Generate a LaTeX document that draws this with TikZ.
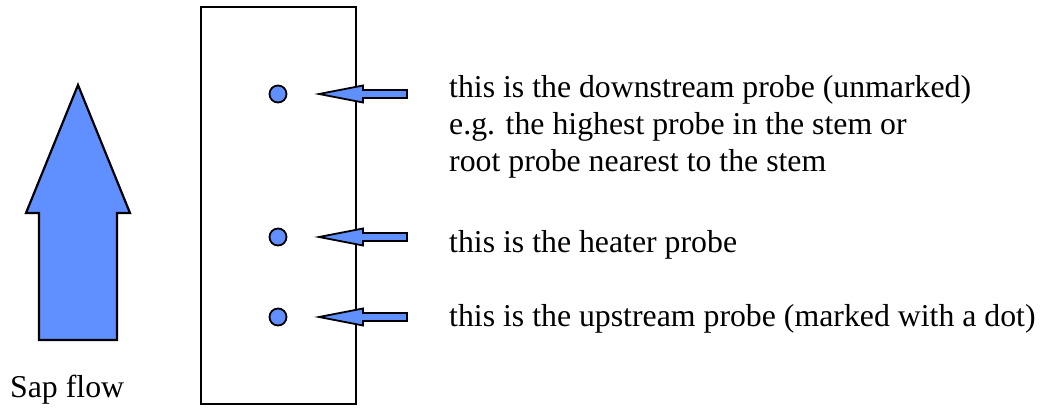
\documentclass[tikz,border=0pt]{standalone}
\usepackage{fontspec}
\setmainfont{Liberation Serif}
\definecolor{probeblue}{RGB}{96,144,255}
\tikzset{
  shapeline/.style={draw=black, line width=2pt, fill=probeblue, line join=miter},
  lbl/.style={anchor=base west, inner sep=0pt, font=\fontsize{31.8}{37}\selectfont},
  probe/.style={circle, draw=black, line width=1.8pt, fill=probeblue, minimum size=17pt, inner sep=0pt},
  pics/probearrow/.style={code={
    \draw[shapeline, line width=1.8pt] (0,0) -- (44,-8.5) -- (44,-4) -- (88,-4) -- (88,4) -- (44,4) -- (44,8.5) -- cycle;
  }}
}
\begin{document}
\begin{tikzpicture}[x=1pt,y=-1pt]
\useasboundingbox (0,0) rectangle (1042,411);
% big flow arrow
\draw[shapeline, line width=2.2pt] (78,85) -- (130,213) -- (117,213) -- (117,340) -- (39,340) -- (39,213) -- (26,213) -- cycle;
\node[lbl] (sap) at (10,398) {Sap flow};
% stem
\draw[black, line width=2pt] (201,7) rectangle (356,404);
% probes
\node[probe] (down) at (278,94) {};
\node[probe] (heat) at (278,237) {};
\node[probe] (up) at (278,317) {};
\pic at (319,94) {probearrow};
\pic at (319,237) {probearrow};
\pic at (319,317) {probearrow};
% labels
\node[lbl] (t1) at (449,98) {this is the downstream probe (unmarked)};
\node[lbl] (t2) at (449,135) {e.g. the highest probe in the stem or};
\node[lbl] (t3) at (449,172) {root probe nearest to the stem};
\node[lbl] (t4) at (449,253) {this is the heater probe};
\node[lbl] (t5) at (449,327) {this is the upstream probe (marked with a dot)};
\end{tikzpicture}
\end{document}
